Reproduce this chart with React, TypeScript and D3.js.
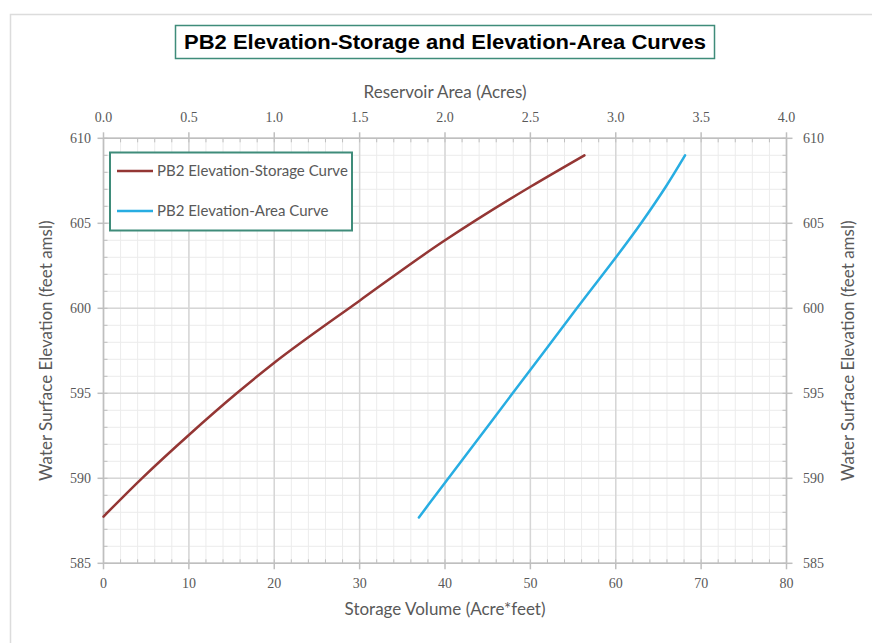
import React from "react";
import * as d3 from "d3";

// Elevation-Storage curve (storage in acre*feet vs elevation in feet amsl)
const storageVolume = [0, 4.5, 10, 15.6, 20, 30, 40, 50, 56.33];
const storageElevation = [587.75, 590, 592.55, 595, 596.8, 600.45, 604, 607.15, 609];

// Elevation-Area curve (area in acres vs elevation)
const areaAcres = [1.847, 2.02, 2.396, 2.772, 3.148, 3.293, 3.406];
const areaElevation = [587.7, 590, 595, 600, 605, 607.15, 609];

const volumeTicks = [0, 10, 20, 30, 40, 50, 60, 70, 80];
const areaTicks = [0, 0.5, 1, 1.5, 2, 2.5, 3, 3.5, 4];
const elevationTicks = [585, 590, 595, 600, 605, 610];

const seriesNames = ["PB2 Elevation-Storage Curve", "PB2 Elevation-Area Curve"];
const seriesColors = ["#943634", "#27ade2"];

const W = 872;
const H = 643;
const L = 103.5, R = 786.5, T = 138.3, B = 563.3;

export default function App() {
  const x = d3.scaleLinear().domain([0, 80]).range([L, R]);
  const xa = d3.scaleLinear().domain([0, 4]).range([L, R]);
  const y = d3.scaleLinear().domain([585, 610]).range([B, T]);

  const minorX = d3.range(0, 80.001, 2);
  const minorY = d3.range(585, 610.001, 1);

  const storagePts = storageVolume.map((v, i) => [v, storageElevation[i]] as [number, number]);
  const areaPts = areaAcres.map((a, i) => [a, areaElevation[i]] as [number, number]);

  const storageLine = d3
    .line<[number, number]>()
    .x((d) => x(d[0]))
    .y((d) => y(d[1]))
    .curve(d3.curveMonotoneY);
  const areaLine = d3
    .line<[number, number]>()
    .x((d) => xa(d[0]))
    .y((d) => y(d[1]))
    .curve(d3.curveMonotoneY);

  const labelFont = "'Liberation Serif', serif";
  const titleFont = "Lato, 'Open Sans', sans-serif";
  const gray = "#595959";
  const axisColor = "#bfbfbf";
  const midY = (T + B) / 2;

  return (
    <svg
      width={W}
      height={H}
      viewBox={`0 0 ${W} ${H}`}
      style={{ position: "absolute", left: 0, top: 0, display: "block", background: "#fff" }}
    >
      <rect x={0} y={0} width={W} height={H} fill="#fff" />
      <rect x={10.5} y={14.5} width={W + 20} height={H + 20} fill="none" stroke="#dcdcdc" strokeWidth={1.5} />

      {/* Title */}
      <rect x={175.5} y={25.5} width={539} height={33} fill="#fff" stroke="#3f8c7a" strokeWidth={1.5} />
      <text
        x={445}
        y={49}
        textAnchor="middle"
        fontFamily="'Liberation Sans', Arial, sans-serif"
        fontWeight="bold"
        fontSize={20}
        textLength={522}
        lengthAdjust="spacingAndGlyphs"
        fill="#000"
      >
        PB2 Elevation-Storage and Elevation-Area Curves
      </text>

      {/* minor grid */}
      {minorX.map((v) => (
        <line key={"mx" + v} x1={x(v)} x2={x(v)} y1={T} y2={B} stroke="#ececec" strokeWidth={1} />
      ))}
      {minorY.map((v) => (
        <line key={"my" + v} x1={L} x2={R} y1={y(v)} y2={y(v)} stroke="#ececec" strokeWidth={1} />
      ))}
      {/* major grid */}
      {volumeTicks.map((v) => (
        <line key={"Mx" + v} x1={x(v)} x2={x(v)} y1={T} y2={B} stroke="#d6d6d6" strokeWidth={1.5} />
      ))}
      {elevationTicks.map((v) => (
        <line key={"My" + v} x1={L} x2={R} y1={y(v)} y2={y(v)} stroke="#d6d6d6" strokeWidth={1.5} />
      ))}

      {/* axis frame */}
      <line x1={L} x2={R} y1={B} y2={B} stroke={axisColor} strokeWidth={1.5} />
      <line x1={L} x2={R} y1={T} y2={T} stroke={axisColor} strokeWidth={1.5} />
      <line x1={L} x2={L} y1={T} y2={B} stroke={axisColor} strokeWidth={1.5} />
      <line x1={R} x2={R} y1={T} y2={B} stroke={axisColor} strokeWidth={1.5} />

      {/* minor ticks (inside) */}
      {minorX.map((v) => (
        <g key={"tx" + v}>
          <line x1={x(v)} x2={x(v)} y1={B} y2={B - 4} stroke={axisColor} />
          <line x1={x(v)} x2={x(v)} y1={T} y2={T + 4} stroke={axisColor} />
        </g>
      ))}
      {minorY.map((v) => (
        <g key={"ty" + v}>
          <line x1={L} x2={L + 4} y1={y(v)} y2={y(v)} stroke={axisColor} />
          <line x1={R} x2={R - 4} y1={y(v)} y2={y(v)} stroke={axisColor} />
        </g>
      ))}
      {/* major ticks (outside) */}
      {volumeTicks.map((v) => (
        <g key={"Tx" + v}>
          <line x1={x(v)} x2={x(v)} y1={B} y2={B + 6} stroke={axisColor} strokeWidth={1.5} />
          <line x1={x(v)} x2={x(v)} y1={T} y2={T - 6} stroke={axisColor} strokeWidth={1.5} />
        </g>
      ))}
      {elevationTicks.map((v) => (
        <g key={"Ty" + v}>
          <line x1={L - 6} x2={L} y1={y(v)} y2={y(v)} stroke={axisColor} strokeWidth={1.5} />
          <line x1={R} x2={R + 6} y1={y(v)} y2={y(v)} stroke={axisColor} strokeWidth={1.5} />
        </g>
      ))}

      {/* tick labels */}
      {volumeTicks.map((v) => (
        <text key={"lx" + v} x={x(v)} y={588} textAnchor="middle" fontFamily={labelFont} fontSize={14} fill={gray}>
          {d3.format("d")(v)}
        </text>
      ))}
      {areaTicks.map((v) => (
        <text key={"la" + v} x={xa(v)} y={122} textAnchor="middle" fontFamily={labelFont} fontSize={14} fill={gray}>
          {d3.format(".1f")(v)}
        </text>
      ))}
      {elevationTicks.map((v) => (
        <g key={"ly" + v}>
          <text x={91} y={y(v) + 4.5} textAnchor="end" fontFamily={labelFont} fontSize={14} fill={gray}>
            {v}
          </text>
          <text x={803} y={y(v) + 4.5} textAnchor="start" fontFamily={labelFont} fontSize={14} fill={gray}>
            {v}
          </text>
        </g>
      ))}

      {/* axis titles */}
      <text x={445} y={98} textAnchor="middle" fontFamily={titleFont} fontSize={17} fill={gray}>
        Reservoir Area (Acres)
      </text>
      <text x={445} y={615} textAnchor="middle" fontFamily={titleFont} fontSize={17} fill={gray}>
        Storage Volume (Acre*feet)
      </text>
      <text
        transform={`translate(52, ${midY}) rotate(-90)`}
        textAnchor="middle"
        fontFamily={titleFont}
        fontSize={17}
        fill={gray}
      >
        Water Surface Elevation (feet amsl)
      </text>
      <text
        transform={`translate(854, ${midY}) rotate(-90)`}
        textAnchor="middle"
        fontFamily={titleFont}
        fontSize={17}
        fill={gray}
      >
        Water Surface Elevation (feet amsl)
      </text>

      {/* curves */}
      <path d={storageLine(storagePts) || ""} fill="none" stroke={seriesColors[0]} strokeWidth={2.5} strokeLinecap="round" />
      <path d={areaLine(areaPts) || ""} fill="none" stroke={seriesColors[1]} strokeWidth={2.5} strokeLinecap="round" />

      {/* legend */}
      <rect x={110} y={152.5} width={242} height={78} fill="#fff" stroke="#3f8c7a" strokeWidth={2} />
      {seriesNames.map((name, i) => (
        <g key={name}>
          <line x1={117} x2={153} y1={171 + i * 40} y2={171 + i * 40} stroke={seriesColors[i]} strokeWidth={2.5} />
          <text x={157} y={176 + i * 40} fontFamily={titleFont} fontSize={15} fill={gray}>
            {name}
          </text>
        </g>
      ))}
    </svg>
  );
}
